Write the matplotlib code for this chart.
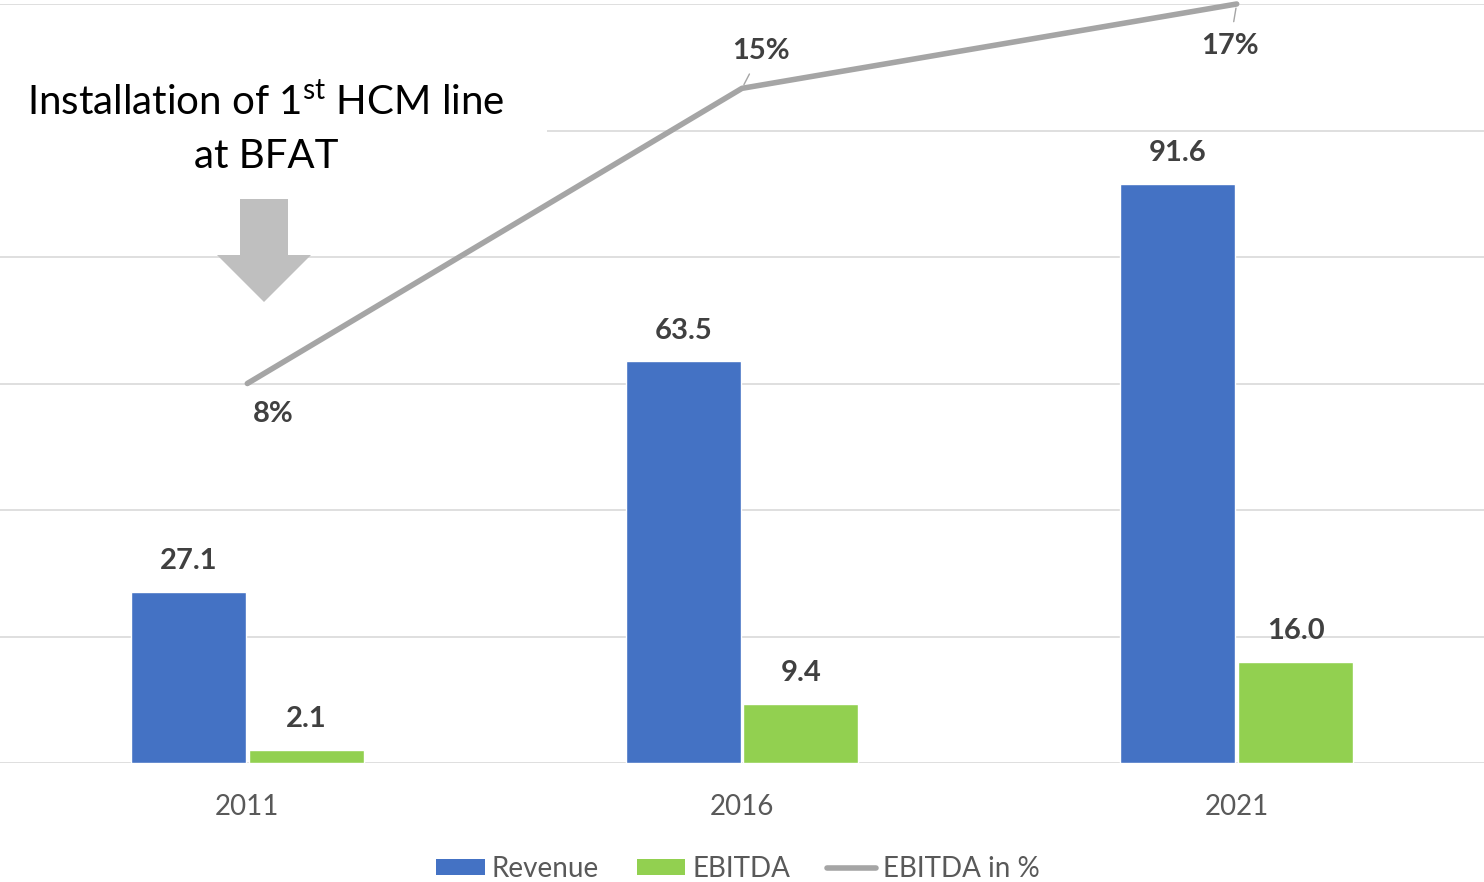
import matplotlib
matplotlib.use("Agg")
import matplotlib.pyplot as plt
from matplotlib.patches import Rectangle, Polygon, Patch
from matplotlib.lines import Line2D
import numpy as np

plt.rcParams['font.family'] = ['Lato', 'DejaVu Sans']
plt.rcParams['mathtext.fontset'] = 'custom'
plt.rcParams['mathtext.rm'] = 'Lato'

years = ['2011', '2016', '2021']
revenue = [27.1, 63.5, 91.6]
ebitda = [2.1, 9.4, 16.0]
ebitda_pct = [0.08, 0.15, 0.17]
pct_labels = ['8%', '15%', '17%']

blue = '#4472C4'
green = '#92D050'
gray = '#A5A5A5'

W, H = 1484, 882
fig = plt.figure(figsize=(W / 100, H / 100), dpi=100)
ax = fig.add_axes([0, 119 / H, 1.0, 759 / H])

x = np.arange(len(years))
width = 0.233
off = 0.119

b1 = ax.bar(x - off, revenue, width, color=blue, edgecolor='white', linewidth=1, zorder=2)
b2 = ax.bar(x + off, ebitda, width, color=green, edgecolor='white', linewidth=1, zorder=2)

ax.set_xlim(-0.5, 2.5)
ax.set_ylim(0, 120)
ax.set_yticks(np.arange(0, 121, 20))
ax.yaxis.grid(True, color='#D9D9D9', linewidth=1.2)
ax.set_axisbelow(True)
for s in ax.spines.values():
    s.set_visible(False)
ax.set_xticks(x)
ax.set_xticklabels(years)
ax.tick_params(axis='x', length=0, pad=22, labelsize=20, labelcolor='#595959')
ax.tick_params(axis='y', length=0, labelleft=False)


def autolabel(rects):
    for rect in rects:
        h = rect.get_height()
        ax.annotate('{0:.1f}'.format(h),
                    xy=(rect.get_x() + rect.get_width() / 2, h),
                    xytext=(0, 22), textcoords='offset points',
                    ha='center', va='center', fontsize=21,
                    fontweight='bold', color='#404040')


autolabel(b1)
autolabel(b2)

ax2 = ax.twinx()
ax2.set_ylim(-0.01, 0.17)
ax2.axis('off')
ax2.plot(x, ebitda_pct, color=gray, linewidth=4.0, solid_capstyle='round',
         solid_joinstyle='round', clip_on=False, zorder=3)

# label offsets in points (dx, dy)
pct_offsets = [(19, -22), (14, 27), (-5, -30)]
for i, (lab, (dx, dy)) in enumerate(zip(pct_labels, pct_offsets)):
    ap = None
    if i > 0:
        ap = dict(arrowstyle='-', color=gray, lw=1, shrinkA=6, shrinkB=3)
    ax2.annotate(lab, xy=(x[i], ebitda_pct[i]), xytext=(dx, dy),
                 textcoords='offset points', ha='center', va='center',
                 fontsize=21, fontweight='bold', color='#404040',
                 arrowprops=ap)

# white box behind the note
fig.add_artist(Rectangle((0, 1 - 195 / H), 547 / W, 175 / H,
                         transform=fig.transFigure, facecolor='white',
                         edgecolor='none', zorder=5))
fig.text(266 / W, 1 - 115 / H, r'Installation of 1$^{\mathrm{st}}$ HCM line',
         ha='center', va='baseline', fontsize=29, color='black', zorder=6)
fig.text(266 / W, 1 - 168 / H, 'at BFAT',
         ha='center', va='baseline', fontsize=29, color='black', zorder=6)

arrow_px = [(240, 199), (288, 199), (288, 255), (311, 255), (264, 302),
            (217, 255), (240, 255)]
fig.add_artist(Polygon([(px / W, 1 - py / H) for px, py in arrow_px],
                       closed=True, transform=fig.transFigure,
                       facecolor='#BFBFBF', edgecolor='none', zorder=6))

handles = [Patch(facecolor=blue, label='Revenue'),
           Patch(facecolor=green, label='EBITDA'),
           Line2D([0], [0], color=gray, linewidth=4.0, solid_capstyle='round',
                  label='EBITDA in %')]
leg = fig.legend(handles=handles, loc='center', bbox_to_anchor=(738 / W, 1 - 869 / H),
                 ncol=3, frameon=False, fontsize=20, handlelength=1.75,
                 handletextpad=0.25, columnspacing=1.35, handleheight=0.5)
for t in leg.get_texts():
    t.set_color('#595959')

fig.savefig('out.png', dpi=100)
